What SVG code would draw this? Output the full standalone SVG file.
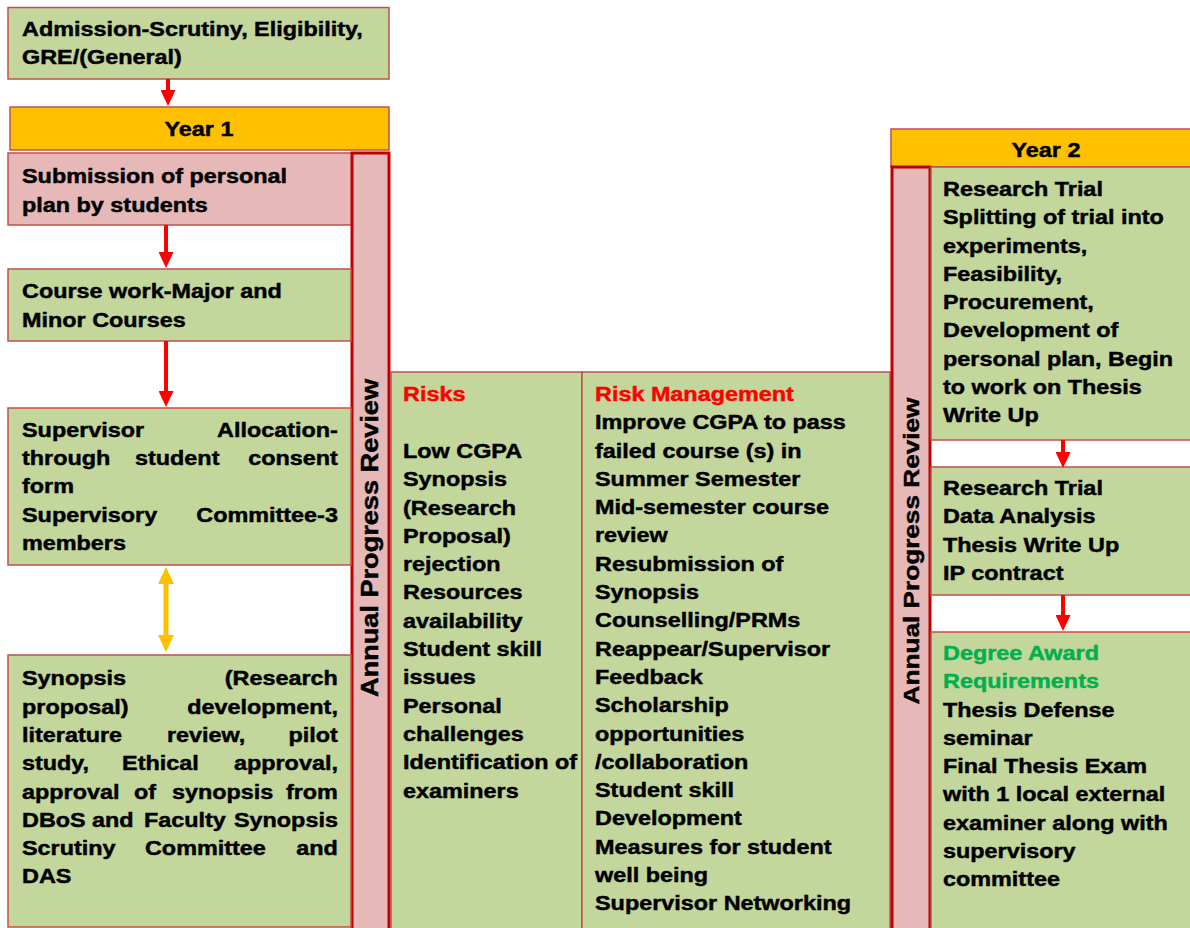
<svg xmlns="http://www.w3.org/2000/svg" width="1190" height="928" viewBox="0 0 1190 928">
<style>
.t{font-family:"Liberation Sans",Arial,sans-serif;font-weight:bold;font-size:20px;fill:#000;stroke:#000;stroke-width:0.45}
.g{fill:#C3D69B;stroke:#C0504D;stroke-width:1.5}
.p{fill:#E6B9B8;stroke:#C0504D;stroke-width:1.5}
.y{fill:#FFC000;stroke:#C0504D;stroke-width:1.5}
.apr{fill:#E6B9B8;stroke:#C00000;stroke-width:3}
.red{fill:#FF0000;stroke:#FF0000}
.grn{fill:#00B050;stroke:#00B050}
.e{text-anchor:end}
.m{text-anchor:middle}
.ar{stroke:#FF0000;stroke-width:4;fill:none}
.ay{stroke:#FFC000;stroke-width:5;fill:none}
</style>
<defs>
<marker id="mr" markerUnits="userSpaceOnUse" viewBox="0 -7.5 16 15" refX="0" refY="0" markerWidth="16" markerHeight="15" orient="auto"><path d="M0,-7.5 L16,0 L0,7.5 z" fill="#FF0000"/></marker>
<marker id="my" markerUnits="userSpaceOnUse" viewBox="0 -8 17 16" refX="0" refY="0" markerWidth="17" markerHeight="16" orient="auto-start-reverse"><path d="M0,-8 L17,0 L0,8 z" fill="#FFC000"/></marker>
</defs>
<rect width="1190" height="928" fill="#fff"/>

<g id="admission">
<rect class="g" x="8" y="7.5" width="381" height="71.5"/>
<g transform="translate(22,0) scale(1.17,1)"><text class="t" x="0" y="36">Admission-Scrutiny, Eligibility,</text><text class="t" x="0" y="64.5">GRE/(General)</text></g>
</g>

<g id="year1">
<rect class="y" x="10" y="107" width="379" height="43"/>
<text class="t m" transform="translate(199,136) scale(1.17,1)">Year 1</text>
</g>

<g id="submission">
<rect class="p" x="8" y="153" width="344" height="72"/>
<g transform="translate(22,0) scale(1.17,1)"><text class="t" x="0" y="183">Submission of personal</text><text class="t" x="0" y="212">plan by students</text></g>
</g>

<g id="apr1">
<rect class="apr" x="352" y="153" width="37" height="780"/>
<text class="t m" style="font-size:23px" transform="translate(378,538) rotate(-90) scale(1.18,1)">Annual Progress Review</text>
</g>

<g id="coursework">
<rect class="g" x="8" y="269" width="343" height="72"/>
<g transform="translate(22,0) scale(1.17,1)"><text class="t" x="0" y="298">Course work-Major and</text><text class="t" x="0" y="327">Minor Courses</text></g>
</g>

<g id="supervisor">
<rect class="g" x="8" y="408" width="343" height="157"/>
<g transform="translate(22,0) scale(1.17,1)">
<text class="t" x="0" y="437">Supervisor</text><text class="t e" x="270" y="437">Allocation-</text>
<text class="t" x="0" y="465">through</text><text class="t" x="96.6" y="465">student</text><text class="t e" x="270" y="465">consent</text>
<text class="t" x="0" y="493">form</text>
<text class="t" x="0" y="522">Supervisory</text><text class="t e" x="270" y="522">Committee-3</text>
<text class="t" x="0" y="550">members</text>
</g>
</g>

<g id="synopsis">
<rect class="g" x="8" y="655" width="343" height="272"/>
<g transform="translate(22,0) scale(1.17,1)">
<text class="t" x="0" y="685">Synopsis</text><text class="t e" x="270" y="685">(Research</text>
<text class="t" x="0" y="714">proposal)</text><text class="t e" x="270" y="714">development,</text>
<text class="t" x="0" y="742">literature</text><text class="t" x="123.9" y="742">review,</text><text class="t e" x="270" y="742">pilot</text>
<text class="t" x="0" y="770">study,</text><text class="t" x="85.5" y="770">Ethical</text><text class="t e" x="270" y="770">approval,</text>
<text class="t" x="0" y="799">approval</text><text class="t" x="95.7" y="799">of</text><text class="t" x="128.2" y="799">synopsis</text><text class="t e" x="270" y="799">from</text>
<text class="t" x="0" y="827">DBoS</text><text class="t" x="59.8" y="827">and</text><text class="t" x="104.3" y="827">Faculty</text><text class="t e" x="270" y="827">Synopsis</text>
<text class="t" x="0" y="855">Scrutiny</text><text class="t" x="105.1" y="855">Committee</text><text class="t e" x="270" y="855">and</text>
<text class="t" x="0" y="883">DAS</text>
</g>
</g>

<g id="risks">
<rect class="g" x="391" y="372" width="191" height="560"/>
<g transform="translate(403,0) scale(1.17,1)">
<text class="t red" x="0" y="401.5">Risks</text>
<text class="t" x="0" y="458">Low CGPA</text>
<text class="t" x="0" y="486.3">Synopsis</text>
<text class="t" x="0" y="514.6">(Research</text>
<text class="t" x="0" y="543">Proposal)</text>
<text class="t" x="0" y="571.2">rejection</text>
<text class="t" x="0" y="599.5">Resources</text>
<text class="t" x="0" y="627.8">availability</text>
<text class="t" x="0" y="656">Student skill</text>
<text class="t" x="0" y="684.4">issues</text>
<text class="t" x="0" y="712.7">Personal</text>
<text class="t" x="0" y="741">challenges</text>
<text class="t" x="0" y="769.3">Identification of</text>
<text class="t" x="0" y="797.6">examiners</text>
</g>
</g>

<g id="riskmanagement">
<rect class="g" x="582" y="372" width="308" height="560"/>
<g transform="translate(595,0) scale(1.17,1)">
<text class="t red" x="0" y="401">Risk Management</text>
<text class="t" x="0" y="429.3">Improve CGPA to pass</text>
<text class="t" x="0" y="457.6">failed course (s) in</text>
<text class="t" x="0" y="485.9">Summer Semester</text>
<text class="t" x="0" y="514.2">Mid-semester course</text>
<text class="t" x="0" y="542.5">review</text>
<text class="t" x="0" y="570.8">Resubmission of</text>
<text class="t" x="0" y="599.1">Synopsis</text>
<text class="t" x="0" y="627.4">Counselling/PRMs</text>
<text class="t" x="0" y="655.7">Reappear/Supervisor</text>
<text class="t" x="0" y="684">Feedback</text>
<text class="t" x="0" y="712.3">Scholarship</text>
<text class="t" x="0" y="740.6">opportunities</text>
<text class="t" x="0" y="768.9">/collaboration</text>
<text class="t" x="0" y="797.2">Student skill</text>
<text class="t" x="0" y="825.5">Development</text>
<text class="t" x="0" y="853.8">Measures for student</text>
<text class="t" x="0" y="882.1">well being</text>
<text class="t" x="0" y="910.4">Supervisor Networking</text>
</g>
</g>

<g id="year2">
<rect class="y" x="891" y="129" width="305" height="38"/>
<text class="t m" transform="translate(1046,157) scale(1.17,1)">Year 2</text>
</g>

<g id="apr2">
<rect class="apr" x="892" y="167" width="38" height="766"/>
<text class="t m" style="font-size:22px" transform="translate(919,551) rotate(-90) scale(1.19,1)">Annual Progress Review</text>
</g>

<g id="trial1">
<rect class="g" x="931" y="167" width="265" height="273"/>
<g transform="translate(943,0) scale(1.17,1)">
<text class="t" x="0" y="196">Research Trial</text>
<text class="t" x="0" y="224.3">Splitting of trial into</text>
<text class="t" x="0" y="252.6">experiments,</text>
<text class="t" x="0" y="280.9">Feasibility,</text>
<text class="t" x="0" y="309.2">Procurement,</text>
<text class="t" x="0" y="337.5">Development of</text>
<text class="t" x="0" y="365.8">personal plan, Begin</text>
<text class="t" x="0" y="394.1">to work on Thesis</text>
<text class="t" x="0" y="422.4">Write Up</text>
</g>
</g>

<g id="trial2">
<rect class="g" x="931" y="467" width="265" height="128"/>
<g transform="translate(943,0) scale(1.17,1)">
<text class="t" x="0" y="495">Research Trial</text>
<text class="t" x="0" y="523.3">Data Analysis</text>
<text class="t" x="0" y="551.6">Thesis Write Up</text>
<text class="t" x="0" y="579.9">IP contract</text>
</g>
</g>

<g id="degree">
<rect class="g" x="931" y="632" width="265" height="300"/>
<g transform="translate(943,0) scale(1.17,1)">
<text class="t grn" x="0" y="660">Degree Award</text>
<text class="t grn" x="0" y="688.3">Requirements</text>
<text class="t" x="0" y="716.6">Thesis Defense</text>
<text class="t" x="0" y="744.9">seminar</text>
<text class="t" x="0" y="773.2">Final Thesis Exam</text>
<text class="t" x="0" y="801.5">with 1 local external</text>
<text class="t" x="0" y="829.8">examiner along with</text>
<text class="t" x="0" y="858.1">supervisory</text>
<text class="t" x="0" y="886.4">committee</text>
</g>
</g>

<g id="connectors">
<line class="ar" x1="168" y1="79" x2="168" y2="90" marker-end="url(#mr)"/>
<line class="ar" x1="166" y1="225" x2="166" y2="252" marker-end="url(#mr)"/>
<line class="ar" x1="166" y1="341" x2="166" y2="391" marker-end="url(#mr)"/>
<line class="ay" x1="166" y1="584" x2="166" y2="635" marker-start="url(#my)" marker-end="url(#my)"/>
<line class="ar" x1="1063" y1="440" x2="1063" y2="452" marker-end="url(#mr)"/>
<line class="ar" x1="1063" y1="595" x2="1063" y2="615" marker-end="url(#mr)"/>
</g>
</svg>
